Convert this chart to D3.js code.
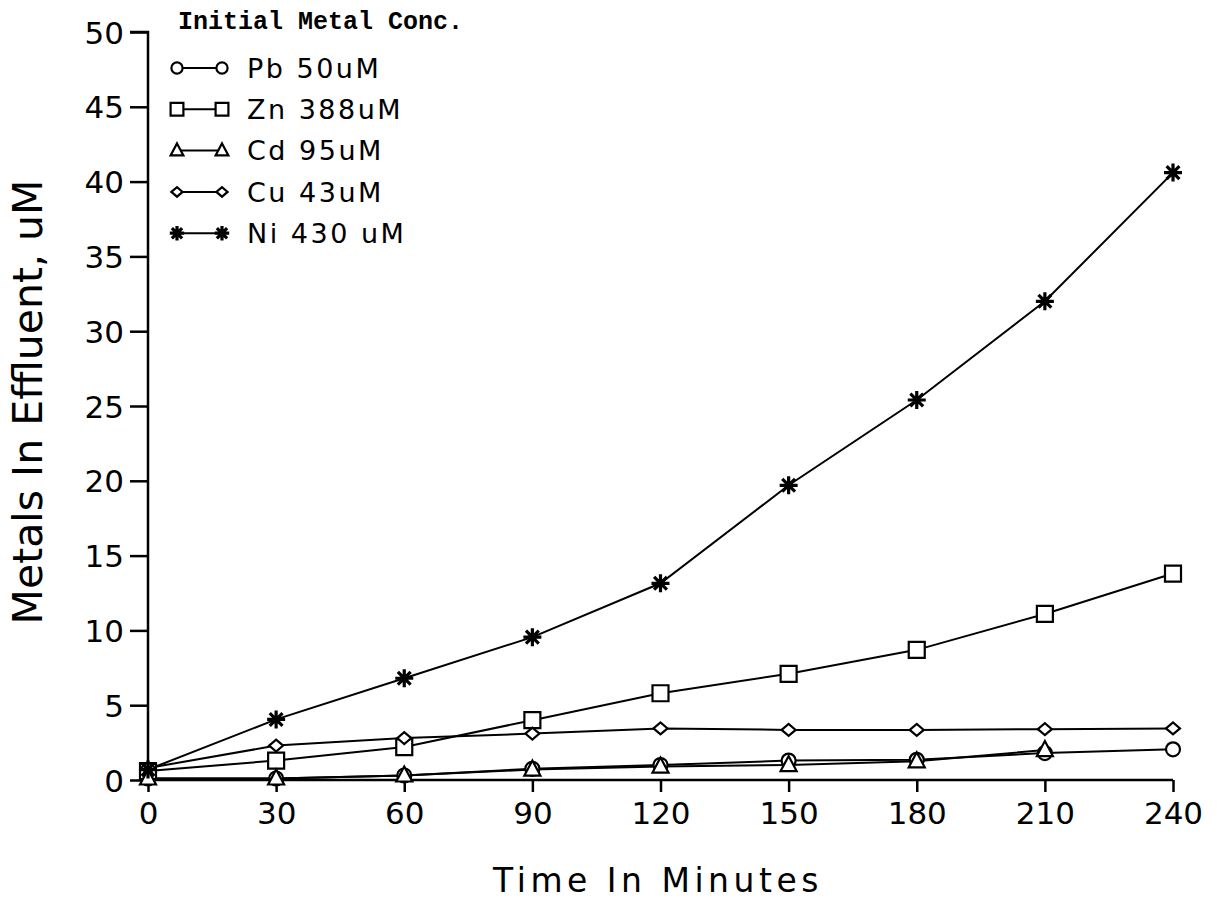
<!DOCTYPE html>
<html>
<head>
<meta charset="utf-8">
<script src="https://cdn.jsdelivr.net/npm/d3@7"></script>
<style>
  html, body { margin: 0; padding: 0; background: #fff; }
  svg { display: block; }
  text { fill: #000; }
</style>
</head>
<body>
<svg id="chart" width="1223" height="907"></svg>
<script>
// Sampling times (minutes)
const times = [0, 30, 60, 90, 120, 150, 180, 210, 240];

// Metal concentrations in effluent (uM)
const pb = [0.1, 0.1, 0.3, 0.75, 1.0, 1.3, 1.35, 1.8, 2.05];
const zn = [0.6, 1.3, 2.2, 4.0, 5.8, 7.1, 8.7, 11.1, 13.8];
const cd = [0.1, 0.1, 0.3, 0.7, 0.9, 1.0, 1.25, 2.0];
const cu = [0.8, 2.3, 2.8, 3.1, 3.45, 3.35, 3.35, 3.4, 3.45];
const ni = [0.7, 4.05, 6.8, 9.55, 13.15, 19.7, 25.4, 32.0, 40.6];

// Axis ticks
const xTicks = [0, 30, 60, 90, 120, 150, 180, 210, 240];
const yTicks = [0, 5, 10, 15, 20, 25, 30, 35, 40, 45, 50];

// Legend entries
const legendTitle = "Initial Metal Conc.";
const seriesNames = ["Pb 50uM", "Zn 388uM", "Cd 95uM", "Cu 43uM", "Ni 430 uM"];
const seriesShapes = ["circle", "square", "triangle", "diamond", "asterisk"];
const seriesValues = [pb, zn, cd, cu, ni];

const svg = d3.select("#chart");
const x = d3.scaleLinear().domain([0, 240]).range([148, 1173]);
const y = d3.scaleLinear().domain([0, 50]).range([780, 32]);

// Marker path generators centred on (0,0)
const markerPath = {
  circle: () => { const r = 7; return `M${-r},0A${r},${r} 0 1,0 ${r},0A${r},${r} 0 1,0 ${-r},0Z`; },
  square: () => { const h = 8; return `M${-h},${-h}H${h}V${h}H${-h}Z`; },
  triangle: () => "M0,-9L8,6H-8Z",
  diamond: () => "M-7,0L0,-6L7,0L0,6Z",
  asterisk: () => {
    const r = 9, d = 6.4;
    return `M${-r},0H${r}M0,${-r}V${r}M${-d},${-d}L${d},${d}M${-d},${d}L${d},${-d}`;
  }
};

function drawMarker(g, shape, cx, cy, s = 1) {
  const p = g.append("path")
    .attr("d", markerPath[shape]())
    .attr("transform", `translate(${cx},${cy}) scale(${s})`)
    .attr("stroke", "#000");
  if (shape === "asterisk") {
    p.attr("fill", "none").attr("stroke-width", 3.2 / s);
  } else {
    p.attr("fill", "#fff").attr("stroke-width", 2.2 / s);
  }
}

// Axes
const yAxis = d3.axisLeft(y).tickValues(yTicks).tickSize(18).tickPadding(6).tickFormat(d3.format("d"));
const gy = svg.append("g").attr("transform", "translate(148,0)").call(yAxis);
gy.select(".domain").attr("d", `M-18,${y(50)}H0V${y(0)}`).attr("stroke-width", 2.5);
gy.selectAll(".tick line").attr("stroke-width", 2.5);
gy.selectAll(".tick text")
  .attr("font-family", "DejaVu Sans").attr("font-size", 31).attr("dy", "0.36em");

const xAxis = d3.axisBottom(x).tickValues(xTicks).tickSize(12).tickPadding(10).tickFormat(d3.format("d"));
const gx = svg.append("g").attr("transform", "translate(0,780)").call(xAxis);
gx.select(".domain").attr("d", `M${x(0)},0H${x(240)}`).attr("stroke-width", 2.5);
gx.selectAll(".tick line").attr("stroke-width", 2.5);
gx.selectAll(".tick text")
  .attr("font-family", "DejaVu Sans").attr("font-size", 31).attr("dy", "0.71em");

// Axis titles
svg.append("text")
  .attr("x", 658).attr("y", 892)
  .attr("text-anchor", "middle")
  .attr("font-family", "DejaVu Sans").attr("font-size", 33)
  .attr("letter-spacing", 4.5)
  .text("Time In Minutes");

svg.append("text")
  .attr("transform", "translate(42,402) rotate(-90)")
  .attr("text-anchor", "middle")
  .attr("font-family", "DejaVu Sans").attr("font-size", 41)
  .text("Metals In Effluent, uM");

// Series lines and markers
const line = d3.line().x((d, i) => x(times[i])).y(d => y(d));
const plot = svg.append("g");
seriesValues.forEach((vals) => {
  plot.append("path").datum(vals)
    .attr("d", line).attr("fill", "none")
    .attr("stroke", "#000").attr("stroke-width", 2);
});
seriesValues.forEach((vals, k) => {
  vals.forEach((v, i) => drawMarker(plot, seriesShapes[k], x(times[i]), y(v)));
});

// Legend
const lg = svg.append("g");
lg.append("text")
  .attr("x", 178).attr("y", 29)
  .attr("font-family", "Liberation Mono").attr("font-weight", "bold")
  .attr("font-size", 25)
  .text(legendTitle);
seriesNames.forEach((name, k) => {
  const cy = 68 + k * 41.3;
  lg.append("line").attr("x1", 177).attr("x2", 222).attr("y1", cy).attr("y2", cy)
    .attr("stroke", "#000").attr("stroke-width", 2);
  drawMarker(lg, seriesShapes[k], 177, cy, 0.8);
  drawMarker(lg, seriesShapes[k], 222, cy, 0.8);
  lg.append("text")
    .attr("x", 247).attr("y", cy).attr("dy", "0.36em")
    .attr("font-family", "DejaVu Sans").attr("font-size", 27)
    .attr("letter-spacing", 2.5)
    .text(name);
});
</script>
</body>
</html>
